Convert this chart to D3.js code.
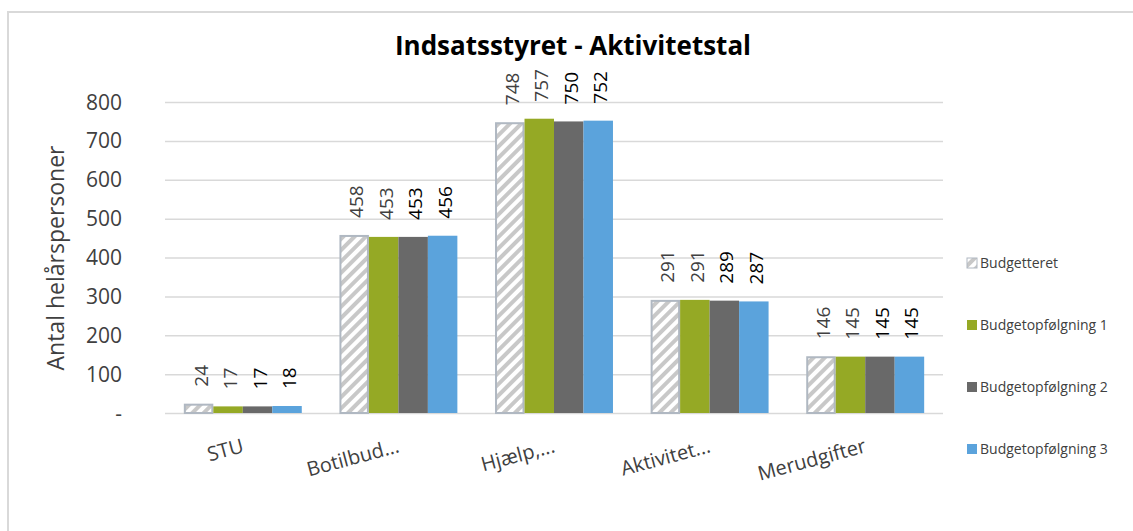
<!DOCTYPE html>
<html lang="en">
<head>
    <meta charset="UTF-8">
    <title>Indsatsstyret - Aktivitetstal</title>
    <script src="https://cdn.jsdelivr.net/npm/d3@7"></script>
    <style>
        body { margin: 0; background: #fff; }
        svg text { font-family: "Open Sans", "Noto Sans", sans-serif; }
        .grid line { stroke: #d9d9d9; stroke-width: 1.5; }
        .grid path { display: none; }
    </style>
</head>
<body>
<svg width="1133" height="531"></svg>
<script>
    var categories = ["STU", "Botilbud...", "Hjælp,...", "Aktivitet...", "Merudgifter"];
    var seriesNames = ["Budgetteret", "Budgetopfølgning 1", "Budgetopfølgning 2", "Budgetopfølgning 3"];
    var budgetteret = [24, 458, 748, 291, 146];
    var budgetopf1 = [17, 453, 757, 291, 145];
    var budgetopf2 = [17, 453, 750, 289, 145];
    var budgetopf3 = [18, 456, 752, 287, 145];
    var yTicks = [0, 100, 200, 300, 400, 500, 600, 700, 800];

    var seriesValues = [budgetteret, budgetopf1, budgetopf2, budgetopf3];
    var colors = ["url(#hatch)", "#95a925", "#696969", "#5ba3dc"];
    var labelColors = ["#404040", "#404040", "#000", "#000"];

    var svg = d3.select("svg");

    // hatch pattern for the budget series
    var defs = svg.append("defs");
    var pat = defs.append("pattern")
        .attr("id", "hatch")
        .attr("patternUnits", "userSpaceOnUse")
        .attr("width", 8)
        .attr("height", 8)
        .attr("patternTransform", "rotate(45)");
    pat.append("rect").attr("width", 8).attr("height", 8).attr("fill", "#fff");
    pat.append("rect").attr("width", 4).attr("height", 8).attr("fill", "#c8c8c8");

    // outer frame
    svg.append("rect")
        .attr("x", 8).attr("y", 12)
        .attr("width", 1140).attr("height", 540)
        .attr("fill", "none")
        .attr("stroke", "#d9d9d9")
        .attr("stroke-width", 2);

    var plotLeft = 165, plotRight = 943, plotTop = 102, plotBottom = 413;

    var x = d3.scaleBand().domain(categories).range([plotLeft, plotRight]).paddingInner(0.242).paddingOuter(0.121);
    var x1 = d3.scaleBand().domain(d3.range(4)).range([0, x.bandwidth()]);
    var y = d3.scaleLinear().domain([0, 800]).range([plotBottom, plotTop]);

    // gridlines
    svg.append("g")
        .attr("class", "grid")
        .attr("transform", "translate(" + plotLeft + ",0)")
        .call(d3.axisLeft(y).tickValues(yTicks).tickSize(-(plotRight - plotLeft)).tickFormat(""));

    // y tick labels
    svg.append("g").selectAll("text")
        .data(yTicks)
        .enter().append("text")
        .attr("x", 122)
        .attr("y", function (d) { return y(d); })
        .attr("dy", "0.36em")
        .attr("text-anchor", "end")
        .attr("font-size", 21)
        .attr("fill", "#404040")
        .text(function (d) { return d === 0 ? "-" : d; });

    // y axis title
    svg.append("text")
        .attr("transform", "translate(64,258) rotate(-90)")
        .attr("text-anchor", "middle")
        .attr("font-size", 23)
        .attr("fill", "#404040")
        .text("Antal helårspersoner");

    // title
    svg.append("text")
        .attr("x", 573).attr("y", 55)
        .attr("text-anchor", "middle")
        .attr("font-size", 26)
        .attr("font-weight", "bold")
        .attr("fill", "#000")
        .text("Indsatsstyret - Aktivitetstal");

    // bars
    var groups = svg.append("g").selectAll("g")
        .data(categories)
        .enter().append("g")
        .attr("transform", function (d) { return "translate(" + x(d) + ",0)"; });

    function rows(d, i) {
        return seriesValues.map(function (s, k) { return { k: k, v: s[i] }; });
    }

    groups.selectAll("rect")
        .data(rows)
        .enter().append("rect")
        .attr("x", function (d) { return x1(d.k) + (d.k === 0 ? 1 : 0); })
        .attr("y", function (d) { return y(d.v) + (d.k === 0 ? 1 : 0); })
        .attr("width", function (d) { return x1.bandwidth() - (d.k === 0 ? 2 : 0); })
        .attr("height", function (d) { return plotBottom - y(d.v) - (d.k === 0 ? 1 : 0); })
        .attr("fill", function (d) { return colors[d.k]; })
        .attr("stroke", function (d) { return d.k === 0 ? "#b0b8c2" : "none"; })
        .attr("stroke-width", 2);

    // value labels
    groups.selectAll("text")
        .data(rows)
        .enter().append("text")
        .attr("transform", function (d) {
            return "translate(" + (x1(d.k) + x1.bandwidth() / 2 + 9) + "," + (y(d.v) - 17) + ") rotate(-90)";
        })
        .attr("font-size", 19)
        .attr("fill", function (d) { return labelColors[d.k]; })
        .text(function (d) { return d.v; });

    // category labels
    svg.append("g").selectAll("text")
        .data(categories)
        .enter().append("text")
        .attr("transform", function (d) {
            return "translate(" + (x(d) + x.bandwidth() / 2 + 2) + ",452) rotate(-15)";
        })
        .attr("text-anchor", "end")
        .attr("font-size", 20)
        .attr("fill", "#404040")
        .text(function (d) { return d; });

    // legend
    var legend = svg.append("g").selectAll("g")
        .data(seriesNames)
        .enter().append("g")
        .attr("transform", function (d, i) { return "translate(967," + (263 + i * 62) + ")"; });

    legend.append("rect")
        .attr("x", 0).attr("y", -5)
        .attr("width", 10).attr("height", 10)
        .attr("fill", function (d, i) { return colors[i]; })
        .attr("stroke", function (d, i) { return i === 0 ? "#b0b8c2" : "none"; })
        .attr("stroke-width", 1);

    legend.append("text")
        .attr("x", 13)
        .attr("dy", "0.36em")
        .attr("font-size", 14)
        .attr("fill", "#404040")
        .text(function (d) { return d; });
</script>
</body>
</html>
